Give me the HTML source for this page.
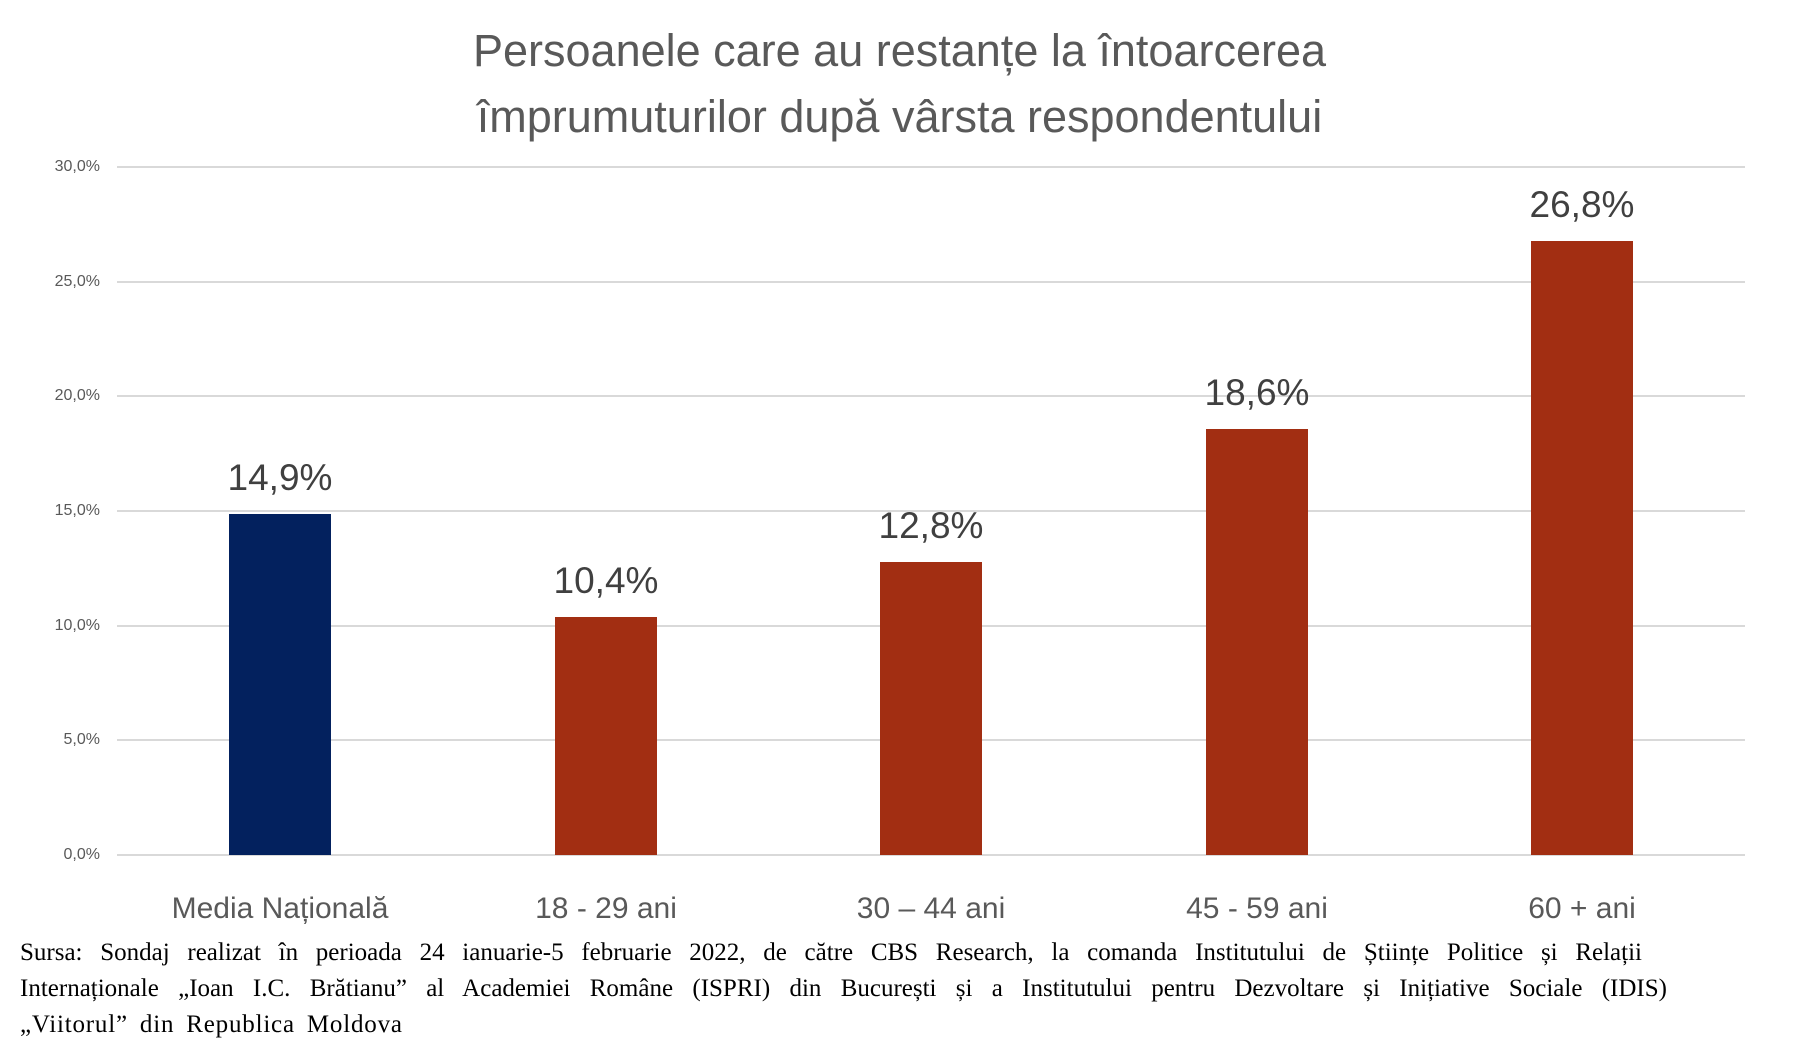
<!DOCTYPE html>
<html><head><meta charset="utf-8"><style>
body{margin:0;width:1799px;height:1057px;background:#fff;overflow:hidden;position:relative;font-family:"Liberation Sans",sans-serif}
.t{position:absolute;white-space:nowrap}
.title{left:0;width:1799px;text-align:center;font-size:45px;color:#595959;line-height:66px;top:18px}
.yl{right:1699px;font-size:16px;color:#595959;transform:translateY(-50%)}
.g{position:absolute;left:117px;width:1628px;height:2px;background:#d9d9d9}
.bar{position:absolute;width:102px}
.dl{font-size:37px;color:#404040;width:300px;text-align:center}
.cl{font-size:30px;color:#595959;width:320px;text-align:center;top:892px}
.fl{position:absolute;left:20px;font-family:"Liberation Serif",serif;font-size:25px;color:#000;white-space:nowrap;text-align:justify;text-align-last:justify}
</style></head><body>
<div class="t title">Persoanele care au restanțe la întoarcerea<br>împrumuturilor după vârsta respondentului</div>
<div class="g" style="top:166px"></div><div class="t yl" style="top:167px">30,0%</div>
<div class="g" style="top:281px"></div><div class="t yl" style="top:282px">25,0%</div>
<div class="g" style="top:395px"></div><div class="t yl" style="top:396px">20,0%</div>
<div class="g" style="top:510px"></div><div class="t yl" style="top:511px">15,0%</div>
<div class="g" style="top:625px"></div><div class="t yl" style="top:626px">10,0%</div>
<div class="g" style="top:739px"></div><div class="t yl" style="top:740px">5,0%</div>
<div class="g" style="top:854px"></div><div class="t yl" style="top:855px">0,0%</div>
<div class="bar" style="left:229px;top:514px;height:341px;background:#03215e"></div>
<div class="bar" style="left:555px;top:617px;height:238px;background:#a22e12"></div>
<div class="bar" style="left:880px;top:562px;height:293px;background:#a22e12"></div>
<div class="bar" style="left:1206px;top:429px;height:426px;background:#a22e12"></div>
<div class="bar" style="left:1531px;top:241px;height:614px;background:#a22e12"></div>
<div class="t dl" style="left:130px;top:457px">14,9%</div>
<div class="t dl" style="left:456px;top:560px">10,4%</div>
<div class="t dl" style="left:781px;top:505px">12,8%</div>
<div class="t dl" style="left:1107px;top:372px">18,6%</div>
<div class="t dl" style="left:1432px;top:184px">26,8%</div>
<div class="t cl" style="left:120px">Media Națională</div>
<div class="t cl" style="left:446px">18 - 29 ani</div>
<div class="t cl" style="left:771px">30 – 44 ani</div>
<div class="t cl" style="left:1097px">45 - 59 ani</div>
<div class="t cl" style="left:1422px">60 + ani</div>
<div class="fl" style="top:939px;width:1622px">Sursa: Sondaj realizat în perioada 24 ianuarie-5 februarie 2022, de către CBS Research, la comanda Institutului de Științe Politice și Relații</div>
<div class="fl" style="top:975px;width:1647px">Internaționale „Ioan I.C. Brătianu” al Academiei Române (ISPRI) din București și a Institutului pentru Dezvoltare și Inițiative Sociale (IDIS)</div>
<div class="fl" style="top:1011px;text-align-last:left;letter-spacing:0.8px;word-spacing:5px">„Viitorul” din Republica Moldova</div>
</body></html>
